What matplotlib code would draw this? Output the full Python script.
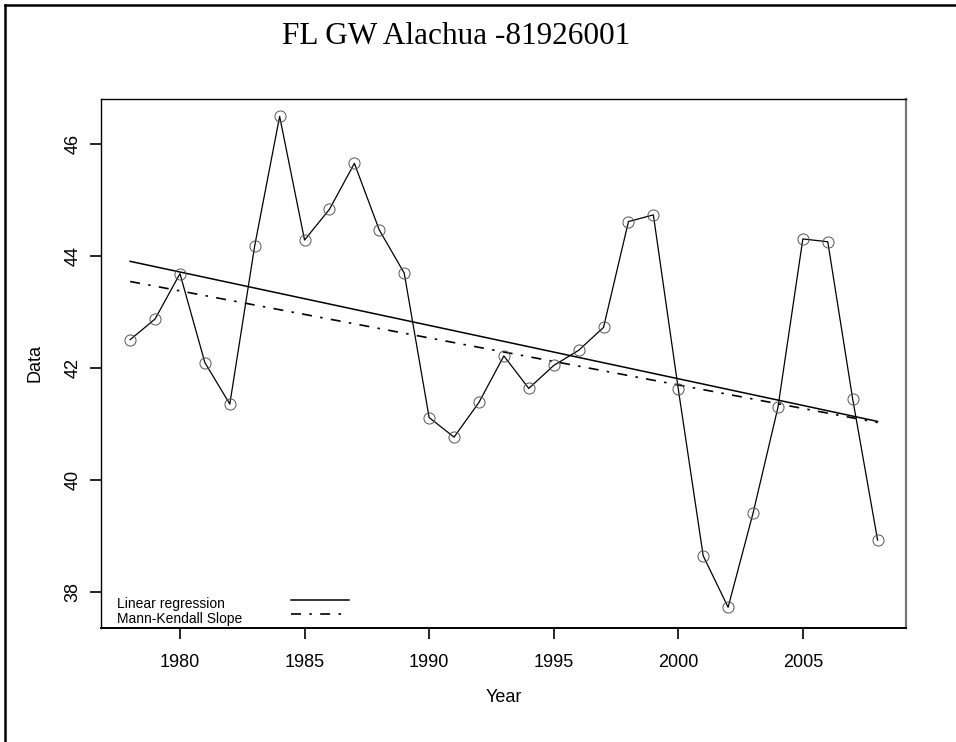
import matplotlib
matplotlib.use('Agg')
import matplotlib.pyplot as plt
from matplotlib.lines import Line2D

plt.rcParams['font.family'] = ['Liberation Sans', 'DejaVu Sans']

# data
years = list(range(1978, 2009))
values = [42.50, 42.87, 43.68, 42.09, 41.35, 44.18, 46.49, 44.28, 44.83, 45.65,
          44.46, 43.69, 41.11, 40.76, 41.38, 42.21, 41.63, 42.04, 42.31, 42.72,
          44.61, 44.73, 41.62, 38.64, 37.72, 39.40, 41.29, 44.30, 44.25, 41.44,
          38.92]

# trend lines (end points at first / last year)
trend_years = [1978, 2008]
linreg_vals = [43.90, 41.04]
mk_vals = [43.54, 41.02]

xticks = [1980, 1985, 1990, 1995, 2000, 2005]
yticks = [38, 40, 42, 44, 46]

title = 'FL GW Alachua -81926001'
legend_labels = ['Linear regression', 'Mann-Kendall Slope']

W, H = 956, 742
mk_style = (0, (6, 5, 1.5, 5))

fig = plt.figure(figsize=(W / 100, H / 100), dpi=100, facecolor='white')
ax = fig.add_axes([101/W, 1 - 628/H, 805/W, 529/H])

ax.plot(years, values, '-', color='black', linewidth=0.9, zorder=3)
ax.plot(years, values, 'o', markersize=8, markerfacecolor='none',
        markeredgecolor='#555555', markeredgewidth=0.7, zorder=4)

ax.plot(trend_years, linreg_vals, '-', color='black', linewidth=1.1)
ax.plot(trend_years, mk_vals, color='black', linewidth=1.2, linestyle=mk_style)

ax.set_xlim(1976.83, 2009.14)
ax.set_ylim(37.35, 46.80)
ax.set_xticks(xticks)
ax.set_yticks(yticks)
ax.tick_params(axis='both', direction='out', length=8, width=1.2,
               labelsize=13, color='black')
ax.tick_params(axis='x', pad=11)
ax.tick_params(axis='y', pad=6)
for lab in ax.get_yticklabels():
    lab.set_rotation(90)
    lab.set_va('center')

for side in ['top', 'left']:
    ax.spines[side].set_linewidth(1.0)
ax.spines['bottom'].set_linewidth(1.4)
ax.spines['right'].set_color('#777777')
ax.spines['right'].set_linewidth(1.6)

# legend: label first, line sample after it
fig.text(117/W, 1 - 604/H, legend_labels[0], ha='left', va='center', fontsize=10)
fig.text(117/W, 1 - 619/H, legend_labels[1], ha='left', va='center', fontsize=10)
fig.add_artist(Line2D([291/W, 349/W], [1 - 600/H, 1 - 600/H],
                      transform=fig.transFigure, color='black', linewidth=1.1))
fig.add_artist(Line2D([291/W, 347/W], [1 - 614/H, 1 - 614/H],
                      transform=fig.transFigure, color='black', linewidth=1.2,
                      linestyle=mk_style))

fig.text(456/W, 1 - 37/H, title, ha='center', va='center',
         fontsize=22.5, family='Liberation Serif')
fig.text(35/W, 1 - 363/H, 'Data', ha='center', va='center',
         rotation=90, fontsize=13)
fig.text(504/W, 1 - 697/H, 'Year', ha='center', va='center',
         fontsize=13)

# outer frame (top and left edges visible)
fig.add_artist(Line2D([5/W, 1.0], [1 - 5/H, 1 - 5/H],
                      transform=fig.transFigure, color='black', linewidth=1.8))
fig.add_artist(Line2D([5/W, 5/W], [1 - 5/H, 0.0],
                      transform=fig.transFigure, color='black', linewidth=1.8))

fig.savefig('out.png', dpi=100)
